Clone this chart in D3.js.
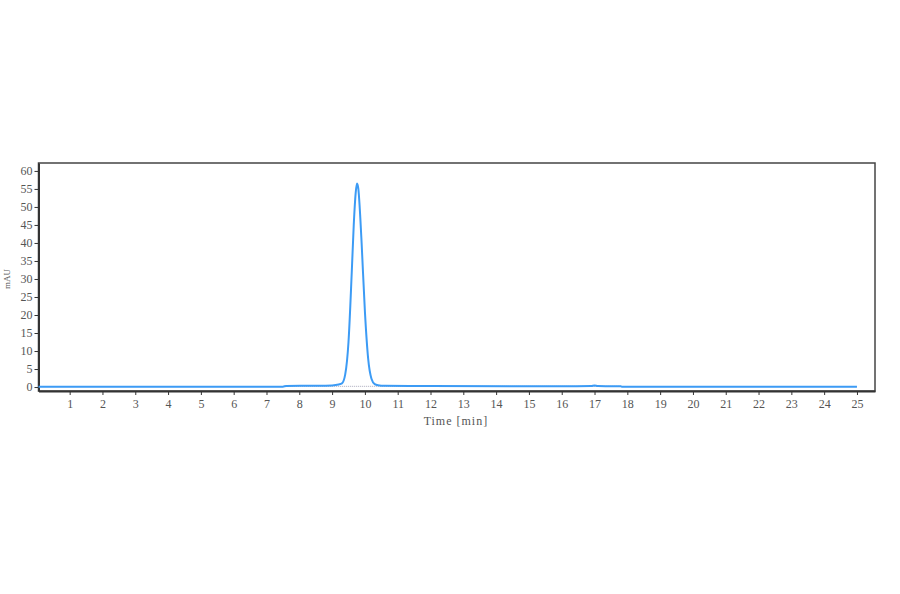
<!DOCTYPE html>
<html>
<head lang="en">
	<meta charset="UTF-8">
	<title>Chromatogram</title>
	<style>
	body { margin: 0; background: #fff; }
	.tick text { font-family: "Liberation Serif", "DejaVu Serif", serif; font-size: 12px; fill: #555; }
	.tick line { stroke: #333; }
	.domain { stroke: #333; stroke-width: 2; }
	</style>
	<script src="https://cdn.jsdelivr.net/npm/d3@7"></script>
</head>
<body>
<script>
	// retention time [min] and signal [mAU]
	var times = [0.05, 7.5, 7.6, 8.5, 9.0, 9.2, 9.3, 9.4, 9.5, 9.6, 9.66, 9.72, 9.76, 9.8, 9.86, 9.9, 10.0, 10.1, 10.2, 10.3, 10.4, 10.6, 12, 16, 16.9, 17.0, 17.1, 17.8, 17.85, 25.0];
	var signal = [0.05, 0.1, 0.3, 0.35, 0.45, 0.7, 1.0, 3.5, 12.5, 32, 45, 54, 56.5, 55, 47, 40, 21, 7.8, 2.3, 0.8, 0.5, 0.35, 0.3, 0.2, 0.3, 0.45, 0.3, 0.2, 0.05, 0.05];
	var xTicks = d3.range(1, 26);
	var yTicks = [0, 5, 10, 15, 20, 25, 30, 35, 40, 45, 50, 55, 60];
	var baseline = [[7.6, 0.2], [17.8, 0.2]];

	window.onload = function(){
		var width = 900, height = 594;
		var left = 38.5, right = 875, top = 163, bottom = 391;

		var svg = d3.select("body").append("svg")
			.attr("width", width)
			.attr("height", height);

		var x = d3.scaleLinear().domain([0.05, 25.55]).range([left, right]);
		var y = d3.scaleLinear().domain([-1.1, 62.2]).range([bottom, top]);

		// frame
		svg.append("rect")
			.attr("x", left).attr("y", top)
			.attr("width", right - left).attr("height", bottom - top)
			.attr("fill", "none").attr("stroke", "#444").attr("stroke-width", 1.5);

		svg.append("g")
			.attr("transform", "translate(0," + bottom + ")")
			.call(d3.axisBottom(x).tickValues(xTicks).tickSize(4).tickPadding(4).tickSizeOuter(0));

		svg.append("g")
			.attr("transform", "translate(" + left + ",0)")
			.call(d3.axisLeft(y).tickValues(yTicks).tickSize(4).tickPadding(2).tickSizeOuter(0));

		svg.append("text")
			.attr("x", (x(0) + x(25)) / 2 + 9).attr("y", 425)
			.attr("text-anchor", "middle")
			.style("font-family", "Liberation Serif, DejaVu Serif, serif")
			.style("font-size", "12px").style("fill", "#555")
			.style("letter-spacing", "1px")
			.text("Time [min]");

		svg.append("text")
			.attr("transform", "translate(10," + y(30) + ") rotate(-90)")
			.attr("text-anchor", "middle")
			.style("font-family", "Liberation Serif, DejaVu Serif, serif")
			.style("font-size", "9px").style("fill", "#555")
			.text("mAU");

		// integration baseline
		svg.append("path")
			.datum(baseline)
			.attr("fill", "none")
			.attr("stroke", "#aab")
			.attr("stroke-width", 1)
			.attr("stroke-dasharray", "1,1")
			.attr("d", d3.line().x(function(d){ return x(d[0]); }).y(function(d){ return y(d[1]); }));

		var pts = times.map(function(t, i){ return [t, signal[i]]; });
		svg.append("path")
			.datum(pts)
			.attr("fill", "none")
			.attr("stroke", "#3c9bf5")
			.attr("stroke-width", 2)
			.attr("stroke-linejoin", "round")
			.attr("d", d3.line()
				.curve(d3.curveMonotoneX)
				.x(function(d){ return x(d[0]); })
				.y(function(d){ return y(d[1]); }));
	};
</script>
</body>
</html>
